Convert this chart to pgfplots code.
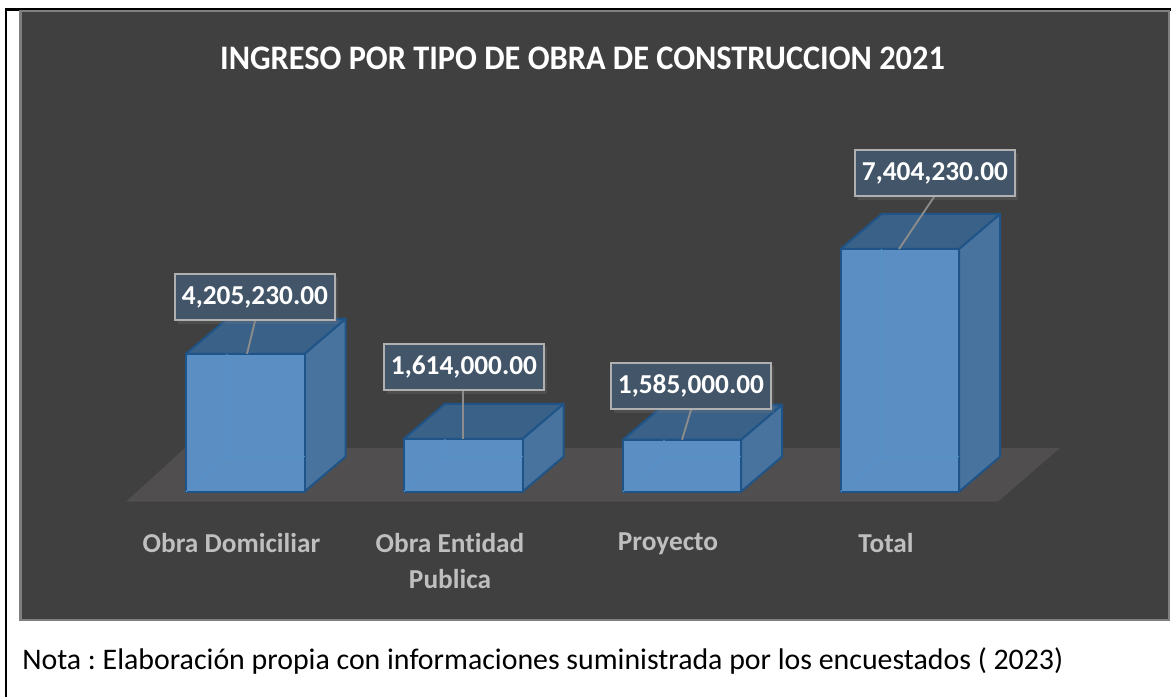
\documentclass[border=0pt]{standalone}
\usepackage{fontspec}
\setmainfont{Carlito}[Ligatures={NoCommon,TeX}]
\usepackage{pgfplots}
\pgfplotsset{compat=1.18}
\usetikzlibrary{shadows}
\frenchspacing
\definecolor{panel}{HTML}{404040}
\definecolor{panelb}{HTML}{7F7F7F}
\definecolor{floorc}{HTML}{504E4E}
\definecolor{front}{HTML}{5B8FC4}
\definecolor{topc}{HTML}{3A6187}
\definecolor{sidec}{HTML}{47739E}
\definecolor{edge}{HTML}{1F5488}
\definecolor{inner}{HTML}{5590C8}
\definecolor{boxc}{HTML}{435568}
\definecolor{boxb}{HTML}{B0B0B0}
\definecolor{lead}{HTML}{8C8C8C}
\definecolor{catc}{HTML}{BFBFBF}
% x0 x1 x0back x1back value valueback
\newcommand{\cajab}[6]{%
  \addplot[draw=edge,line width=1.5pt,fill=sidec,line join=round] coordinates {(#2,0) (#4,1067780) (#4,#6) (#2,#5)} --cycle;
  \addplot[draw=edge,line width=1.5pt,fill=topc,line join=round] coordinates {(#1,#5) (#3,#6) (#4,#6) (#2,#5)} --cycle;
  \addplot[draw=edge,line width=1.5pt,fill=front,line join=round] coordinates {(#1,0) (#2,0) (#2,#5) (#1,#5)} --cycle;
  \addplot[draw=inner,line width=0.8pt] coordinates {(#1,0) (#3,1067780) (#3,#5)};
  \addplot[draw=inner,line width=0.8pt] coordinates {(#3,1067780) (#2,1067780)};
}
\begin{document}
\begin{tikzpicture}
\begin{axis}[
  width=878.25pt,height=522.75pt,scale only axis,
  xmin=0,xmax=1171,ymin=-6263292,ymax=15000784,
  axis on top,
  axis line style={draw=none},tick style={draw=none},
  ytick=\empty,
  xtick={231.5,450,668,886},
  xticklabels={Obra Domiciliar,{Obra Entidad\\Publica},Proyecto,Total},
  xticklabel style={yshift=126.5pt,align=center,text=catc,anchor=north,
    font=\fontsize{20.5pt}{27pt}\selectfont\bfseries},
  major tick length=0pt,
  clip=true,
  ]
% frame and panel
\addplot[draw=black,line width=1.6pt] coordinates {(6,-6263292) (6,14710958) (1171,14710958)};
\addplot[draw=panelb,line width=1.6pt,fill=panel] coordinates {(20.5,14665196) (1169,14665196) (1169,-3914176) (20.5,-3914176)} --cycle;
% floor
\addplot[draw=none,fill=floorc] coordinates {(126,-305080) (998,-305080) (1060,1333200) (185,1333200)} --cycle;
% bars
\cajab{186}{304.5}{227}{345.5}{4205230}{5273010}
\cajab{404}{522.5}{445}{563.5}{1614000}{2681780}
\cajab{623}{741}{664}{782}{1585000}{2652780}
\cajab{840.7}{959}{881.7}{1000}{7404230}{8472010}
% leaders
\addplot[draw=lead,line width=1.4pt] coordinates {(247,4205230) (255,5207716)};
\addplot[draw=lead,line width=1.4pt] coordinates {(463,1614000) (463,3056902)};
\addplot[draw=lead,line width=1.4pt] coordinates {(682,1585000) (691,2492504)};
\addplot[draw=lead,line width=1.4pt] coordinates {(899,7404230) (934,8990708)};
% value labels
\tikzset{vl/.style={draw=boxb,line width=1.4pt,fill=boxc,text=white,
  minimum width=120pt,minimum height=35pt,inner sep=0pt,
  font=\fontsize{20.5pt}{24pt}\selectfont\bfseries,
  drop shadow={opacity=.22,shadow xshift=2.5pt,shadow yshift=-2.5pt}}}
\node[vl] at (axis cs:255,5939908) {4,205,230.00};
\node[vl] at (axis cs:464,3804348) {1,614,000.00};
\node[vl] at (axis cs:691,3224696) {1,585,000.00};
\node[vl] at (axis cs:935,9722900) {7,404,230.00};
% title and note
\node[text=white,xscale=0.94,font=\fontsize{25.8pt}{30pt}\selectfont\bfseries] at (axis cs:582.5,13228000) {INGRESO POR TIPO DE OBRA DE CONSTRUCCION 2021};
\node[anchor=west,text=black,inner sep=0pt,font=\fontsize{22.4pt}{27pt}\selectfont] at (axis cs:22,-5165000) {Nota : Elaboración propia con informaciones suministrada por los encuestados ( 2023)};
\end{axis}
\end{tikzpicture}
\end{document}
